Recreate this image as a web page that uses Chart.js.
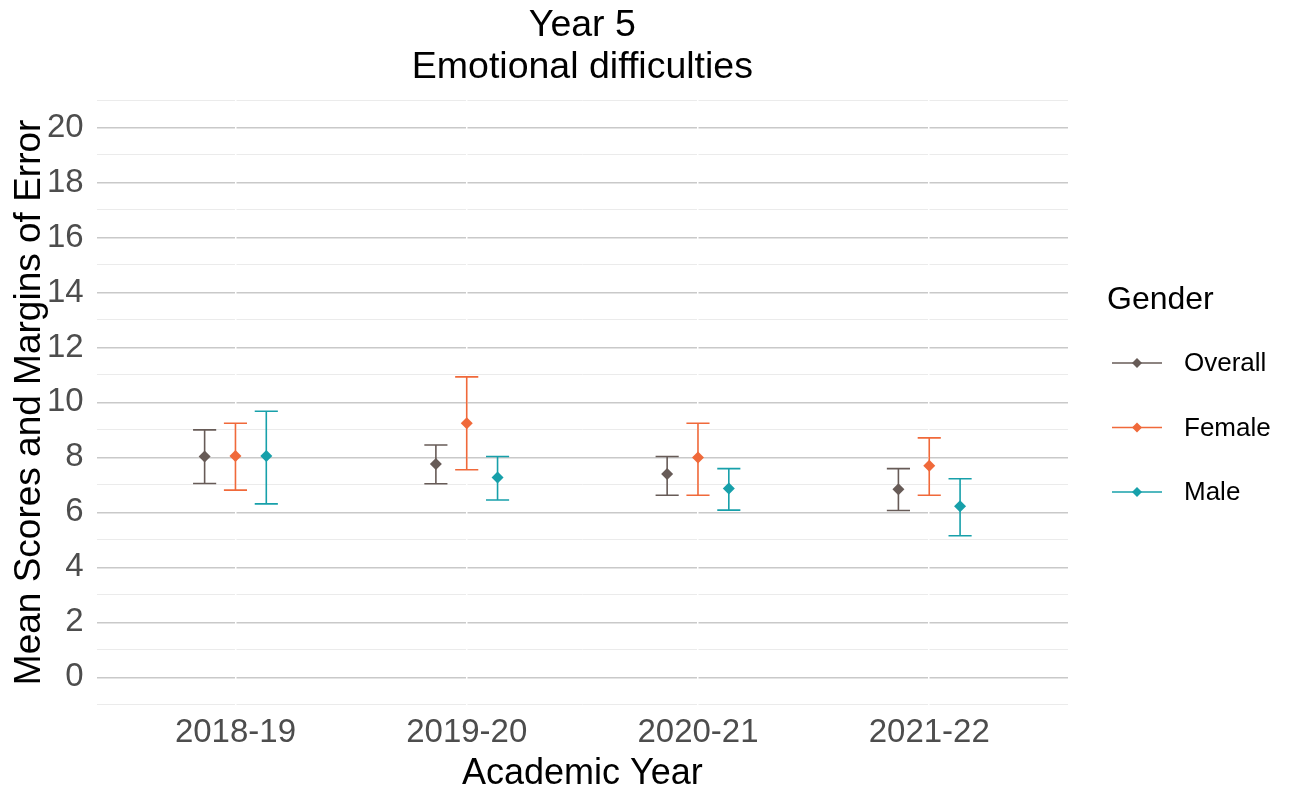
<!DOCTYPE html>
<html>
<head>
<meta charset="utf-8">
<title>Year 5 - Emotional difficulties</title>
<script src="https://cdn.jsdelivr.net/npm/chart.js@4/dist/chart.umd.min.js"></script>
<style>
  html, body { margin: 0; padding: 0; background: #ffffff; }
  #wrap { width: 1294px; height: 790px; }
</style>
</head>
<body>
<div id="wrap"><canvas id="chart" width="1294" height="790"></canvas></div>
<script>
// Academic years on the x axis
const years = ['2018-19', '2019-20', '2020-21', '2021-22'];

// Mean scores with lower / upper margins of error, per gender group
const overallMean  = [8.03, 7.76, 7.40, 6.84];
const overallLower = [7.05, 7.04, 6.62, 6.07];
const overallUpper = [9.00, 8.45, 8.03, 7.59];

const femaleMean  = [8.05, 9.24, 8.00, 7.70];
const femaleLower = [6.81, 7.55, 6.62, 6.62];
const femaleUpper = [9.24, 10.93, 9.24, 8.71];

const maleMean  = [8.05, 7.27, 6.87, 6.22];
const maleLower = [6.31, 6.45, 6.08, 5.15];
const maleUpper = [9.68, 8.03, 7.59, 7.22];

// Labelled y ticks
const yTickLabels = [0, 2, 4, 6, 8, 10, 12, 14, 16, 18, 20];

const groups = [
  { label: 'Overall', color: '#675b57', mean: overallMean, lower: overallLower, upper: overallUpper },
  { label: 'Female',  color: '#f0693a', mean: femaleMean,  lower: femaleLower,  upper: femaleUpper },
  { label: 'Male',    color: '#17a0aa', mean: maleMean,    lower: maleLower,    upper: maleUpper }
];

// Side-by-side dodge of the three groups within each year
const dodge = 0.4 / 3;
const capHalf = 0.05;

const FONT = "'Liberation Sans', Arial, sans-serif";

const datasets = groups.map((g, gi) => ({
  label: g.label,
  data: g.mean.map((m, i) => ({ x: i + (gi - 1) * dodge, y: m })),
  lower: g.lower,
  upper: g.upper,
  borderColor: g.color,
  backgroundColor: g.color,
  pointStyle: 'rectRot',
  pointRadius: 6,
  pointHoverRadius: 6,
  pointBorderWidth: 0,
  showLine: false
}));

// Error bars with caps, drawn beneath the points
const errorBars = {
  id: 'errorBars',
  beforeDatasetsDraw(chart) {
    const { ctx, scales: { x, y } } = chart;
    ctx.save();
    chart.data.datasets.forEach((ds) => {
      ctx.strokeStyle = ds.borderColor;
      ctx.lineWidth = 1.6;
      ds.data.forEach((pt, i) => {
        const px = x.getPixelForValue(pt.x);
        const pl = x.getPixelForValue(pt.x - capHalf);
        const pr = x.getPixelForValue(pt.x + capHalf);
        const yLo = y.getPixelForValue(ds.lower[i]);
        const yHi = y.getPixelForValue(ds.upper[i]);
        ctx.beginPath();
        ctx.moveTo(px, yLo); ctx.lineTo(px, yHi);
        ctx.moveTo(pl, yLo); ctx.lineTo(pr, yLo);
        ctx.moveTo(pl, yHi); ctx.lineTo(pr, yHi);
        ctx.stroke();
      });
    });
    ctx.restore();
  }
};

// Legend on the right: title plus line-and-diamond keys
const genderLegend = {
  id: 'genderLegend',
  afterDraw(chart) {
    const { ctx } = chart;
    ctx.save();
    ctx.textBaseline = 'middle';
    ctx.textAlign = 'left';
    ctx.fillStyle = '#000000';
    ctx.font = `32px ${FONT}`;
    ctx.fillText('Gender', 1107, 300);
    ctx.font = `26px ${FONT}`;
    chart.data.datasets.forEach((ds, i) => {
      const cy = 363 + i * 64.5;
      ctx.strokeStyle = ds.borderColor;
      ctx.lineWidth = 1.6;
      ctx.beginPath();
      ctx.moveTo(1112, cy); ctx.lineTo(1162, cy);
      ctx.stroke();
      ctx.fillStyle = ds.backgroundColor;
      ctx.beginPath();
      ctx.moveTo(1137, cy - 5); ctx.lineTo(1142, cy); ctx.lineTo(1137, cy + 5); ctx.lineTo(1132, cy);
      ctx.closePath();
      ctx.fill();
      ctx.fillStyle = '#000000';
      ctx.fillText(ds.label, 1184, cy + 1);
    });
    ctx.restore();
  }
};

new Chart(document.getElementById('chart'), {
  type: 'scatter',
  data: { datasets },
  plugins: [errorBars, genderLegend],
  options: {
    responsive: false,
    animation: false,
    events: [],
    layout: { padding: { left: 8, right: 226, top: 0, bottom: 1 } },
    plugins: {
      legend: { display: false },
      tooltip: { enabled: false },
      title: {
        display: true,
        fullSize: false,
        text: ['Year 5', 'Emotional difficulties'],
        color: '#000000',
        font: { family: FONT, size: 37.5, weight: 'normal', lineHeight: 1.12 },
        padding: { top: 5, bottom: 11 }
      }
    },
    scales: {
      y: {
        type: 'linear',
        min: -1,
        max: 21,
        afterBuildTicks(scale) {
          const t = [];
          for (let v = -1; v <= 21; v++) t.push({ value: v });
          scale.ticks = t;
        },
        ticks: {
          autoSkip: false,
          padding: 13,
          color: '#4d4d4d',
          font: { family: FONT, size: 33 },
          callback: (v) => (yTickLabels.includes(v) ? String(v) : '')
        },
        grid: {
          drawTicks: false,
          color: (c) => (yTickLabels.includes(c.tick.value) ? '#c9c9c9' : '#ebebeb'),
          lineWidth: (c) => (yTickLabels.includes(c.tick.value) ? 1.4 : 1)
        },
        border: { display: false },
        title: {
          display: true,
          text: 'Mean Scores and Margins of Error',
          color: '#000000',
          font: { family: FONT, size: 37, lineHeight: 1.2 },
          padding: { top: 0, bottom: -18.4 }
        }
      },
      x: {
        type: 'linear',
        min: -0.6,
        max: 3.6,
        afterBuildTicks(scale) {
          scale.ticks = years.map((_, i) => ({ value: i }));
        },
        ticks: {
          autoSkip: false,
          maxRotation: 0,
          padding: 8,
          color: '#4d4d4d',
          font: { family: FONT, size: 33 },
          callback: (v) => years[v] ?? ''
        },
        grid: { drawTicks: false, color: '#ffffff', lineWidth: 1.5 },
        border: { display: false },
        title: {
          display: true,
          text: 'Academic Year',
          color: '#000000',
          font: { family: FONT, size: 36, lineHeight: 1.0 },
          padding: { top: -4.4, bottom: -3 }
        }
      }
    }
  }
});
</script>
</body>
</html>
